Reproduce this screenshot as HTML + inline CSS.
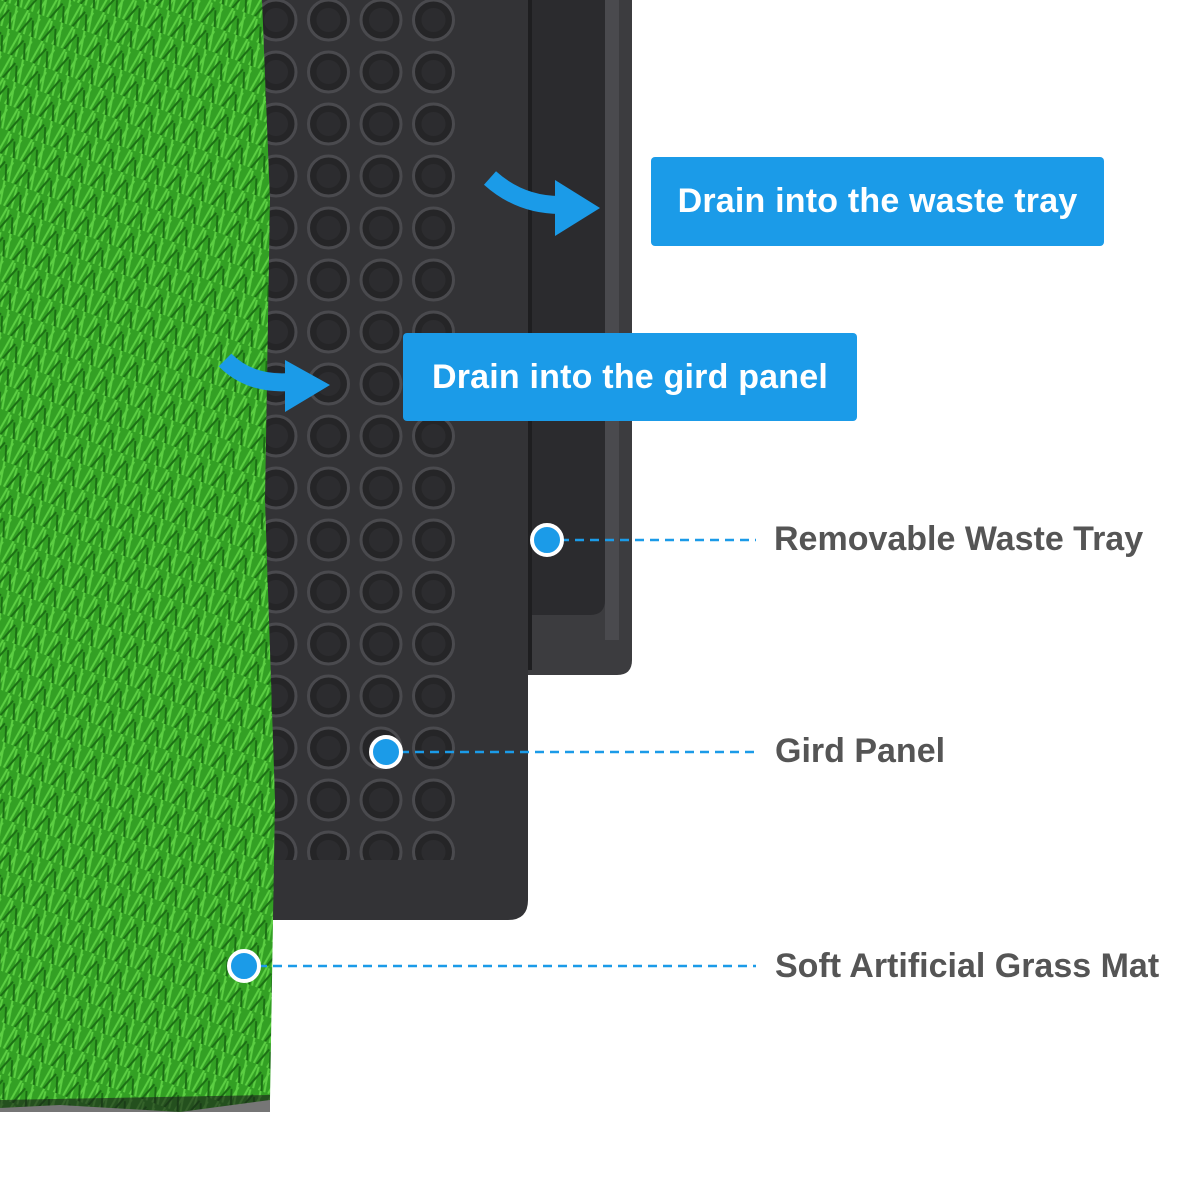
<!DOCTYPE html>
<html><head><meta charset="utf-8"><style>
html,body{margin:0;padding:0;background:#fff;}
body{width:1200px;height:1200px;position:relative;overflow:hidden;font-family:"Liberation Sans",sans-serif;}
.box{position:absolute;background:#1b9be8;color:#fff;font-weight:bold;font-size:34px;display:flex;align-items:center;justify-content:center;border-radius:4px;letter-spacing:0.2px;}
.lbl{position:absolute;color:#555;font-weight:bold;font-size:34px;white-space:nowrap;}
</style></head><body>
<svg width="1200" height="1200" style="position:absolute;left:0;top:0">
<defs>
<pattern id="bumps" x="250" y="-6" width="52.5" height="52" patternUnits="userSpaceOnUse">
<circle cx="26" cy="26" r="20" fill="#252527" stroke="#4a4a4e" stroke-width="3"/>
<circle cx="26" cy="26" r="12" fill="#2c2c2f"/>
</pattern>
<pattern id="grass" width="24" height="24" patternUnits="userSpaceOnUse" patternTransform="rotate(20)">
<rect width="24" height="24" fill="#33a024"/>
<path d="M2 24 L6 0 M10 24 L8 2 M16 24 L20 4 M22 24 L18 0" stroke="#5ccf43" stroke-width="2"/>
<path d="M5 24 L12 6 M19 24 L14 8" stroke="#1b6e14" stroke-width="2"/>
</pattern>
</defs>
<!-- tray -->
<path d="M515 0 H632 V660 Q632 675 617 675 H515 Z" fill="#3c3c3f"/>
<path d="M525 0 H605 V600 Q605 615 590 615 H525 Z" fill="#2b2b2e"/>
<rect x="605" y="0" width="14" height="640" fill="#4a4a4e"/>
<rect x="520" y="0" width="12" height="670" fill="#1e1e20"/>
<!-- grid panel -->
<path d="M262 0 H528 V900 Q528 920 508 920 H262 Z" fill="#333336"/>
<rect x="262" y="0" width="200" height="860" fill="url(#bumps)"/>
<!-- grass -->
<path d="M0 0 H262 L270 200 L265 500 L275 800 L270 1100 L180 1112 L60 1105 L0 1108 Z" fill="url(#grass)"/>
<path d="M0 1100 L270 1095 L270 1112 L0 1112 Z" fill="#1a1a1a" opacity="0.6"/>
<!-- arrows -->
<path d="M490 178 Q520 205 560 205" stroke="#1b9be8" stroke-width="18" fill="none"/>
<polygon points="555,180 600,208 555,236" fill="#1b9be8"/>
<path d="M225 360 Q250 385 290 382" stroke="#1b9be8" stroke-width="18" fill="none"/>
<polygon points="285,360 330,385 285,412" fill="#1b9be8"/>
<!-- dashed lines -->
<g stroke="#1b9be8" stroke-width="2.5" stroke-dasharray="9,6">
<line x1="560" y1="540" x2="756" y2="540"/>
<line x1="400" y1="752" x2="756" y2="752"/>
<line x1="258" y1="966" x2="756" y2="966"/>
</g>
<g fill="#1b9be8" stroke="#fff" stroke-width="4">
<circle cx="547" cy="540" r="15"/>
<circle cx="386" cy="752" r="15"/>
<circle cx="244" cy="966" r="15"/>
</g>
</svg>
<div class="box" style="left:651px;top:157px;width:453px;height:89px;">Drain into the waste tray</div>
<div class="box" style="left:403px;top:333px;width:454px;height:88px;">Drain into the gird panel</div>
<div class="lbl" style="left:774px;top:520px;">Removable Waste Tray</div>
<div class="lbl" style="left:775px;top:732px;">Gird Panel</div>
<div class="lbl" style="left:775px;top:947px;">Soft Artificial Grass Mat</div>
</body></html>
